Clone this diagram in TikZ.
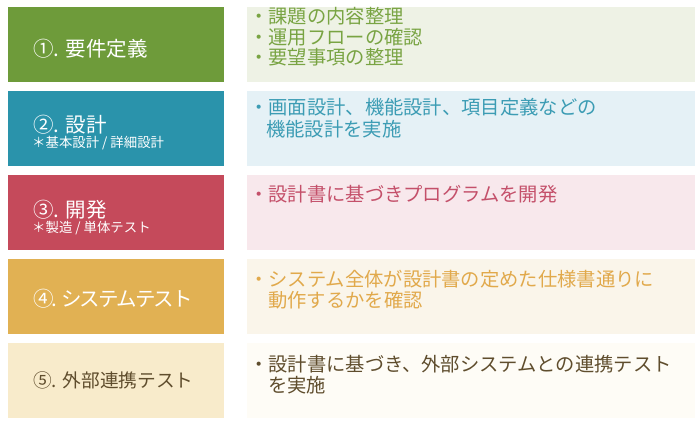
\documentclass[tikz,border=0pt]{standalone}
\usepackage{fontspec}
\setmainfont{Noto Sans CJK JP}
\newfontfamily\tightfont[LetterSpace=-9]{Noto Sans CJK JP}
\definecolor{gA}{HTML}{6E9B3A}\definecolor{gB}{HTML}{EEF2E5}\definecolor{gT}{HTML}{79A443}
\definecolor{bA}{HTML}{2A93AB}\definecolor{bB}{HTML}{E5F1F6}\definecolor{bT}{HTML}{3C9CB4}
\definecolor{rA}{HTML}{C54A5B}\definecolor{rB}{HTML}{F8E8EC}\definecolor{rT}{HTML}{C4506A}
\definecolor{yA}{HTML}{E1B153}\definecolor{yB}{HTML}{FAF5EA}\definecolor{yT}{HTML}{E1A94B}
\definecolor{cA}{HTML}{F8EBCB}\definecolor{cB}{HTML}{FEFCF6}\definecolor{cT}{HTML}{5F4D2D}
\begin{document}
\begin{tikzpicture}[x=1pt,y=-1pt,
  leftbox/.style={rectangle,draw=none,inner sep=0pt,minimum width=216pt,minimum height=75pt,anchor=north west},
  rightbox/.style={rectangle,draw=none,inner sep=0pt,minimum width=448pt,minimum height=75pt,anchor=north west},
  head/.style={inner sep=0pt,anchor=base west,font=\fontsize{20.5}{24}\selectfont},
  subhead/.style={inner sep=0pt,anchor=base west,font=\fontsize{13.4}{15}\selectfont},
  item/.style={inner sep=0pt,anchor=base west,font=\fontsize{19.3}{22}\selectfont}]
\useasboundingbox (0,0) rectangle (700,425);
\fill[white] (0,0) rectangle (700,425);
% row 1
\node[leftbox,fill=gA] (L1) at (8,7) {};
\node[rightbox,fill=gB] (R1) at (247,7) {};
\node[head,text=white] (H1) at (33,57) {①. 要件定義};
\node[item,text=gT] (T1a) at (249,24) {・課題の内容整理};
\node[item,text=gT] (T1b) at (249,45) {・運用フローの確認};
\node[item,text=gT] (T1c) at (249,65) {・要望事項の整理};
% row 2
\node[leftbox,fill=bA] (L2) at (8,91) {};
\node[rightbox,fill=bB] (R2) at (247,91) {};
\node[head,text=white] (H2) at (33,132) {②. 設計};
\node[subhead,text=white] (S2) at (32,147) {＊基本設計 / 詳細設計};
\node[item,text=bT] (T2a) at (249,114) {・画面設計、機能設計、項目定義などの};
\node[item,text=bT] (T2b) at (266,136) {機能設計を実施};
% row 3
\node[leftbox,fill=rA] (L3) at (8,175) {};
\node[rightbox,fill=rB] (R3) at (247,175) {};
\node[head,text=white] (H3) at (33,217) {③. 開発};
\node[subhead,text=white] (S3) at (32,232) {＊製造 / 単体テスト};
\node[item,text=rT] (T3a) at (249,201) {・設計書に基づきプログラムを開発};
% row 4
\node[leftbox,fill=yA] (L4) at (8,259) {};
\node[rightbox,fill=yB] (R4) at (247,259) {};
\node[head,text=white,font=\tightfont\fontsize{20.5}{24}\selectfont] (H4) at (33,306) {④. システムテスト};
\node[item,text=yT] (T4a) at (249,286) {・システム全体が設計書の定めた仕様書通りに};
\node[item,text=yT] (T4b) at (268,307) {動作するかを確認};
% row 5
\node[leftbox,fill=cA] (L5) at (8,343) {};
\node[rightbox,fill=cB] (R5) at (247,343) {};
\node[head,text=cT,font=\fontsize{18.7}{22}\selectfont] (H5) at (33,387) {⑤. 外部連携テスト};
\node[item,text=cT] (T5a) at (249,371) {・設計書に基づき、外部システムとの連携テスト};
\node[item,text=cT] (T5b) at (268,392) {を実施};
\end{tikzpicture}
\end{document}
